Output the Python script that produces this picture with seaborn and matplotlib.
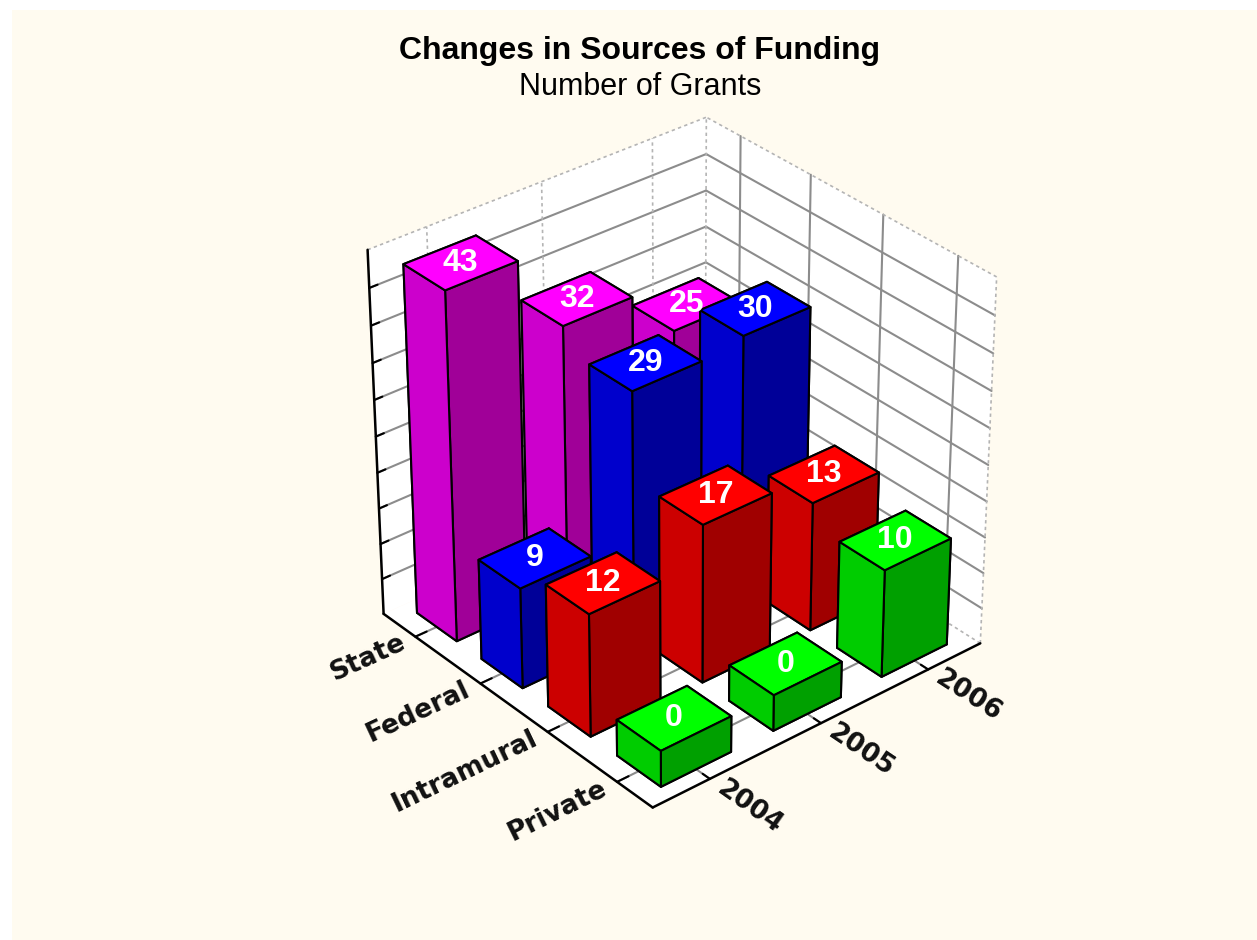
"""
Changes in Sources of Funding - 3D bar chart
"""

import matplotlib
matplotlib.use("Agg")
import matplotlib.pyplot as plt
import seaborn as sns
from matplotlib.patches import Rectangle
from mpl_toolkits.mplot3d.art3d import Poly3DCollection

years = ["2004", "2005", "2006"]
sources = ["Private", "Intramural", "Federal", "State"]

private = [0, 0, 10]
intramural = [12, 17, 13]
federal = [9, 29, 30]
state = [43, 32, 25]
grants = [private, intramural, federal, state]

z_ticks = [-5, 0, 5, 10, 15, 20, 25, 30, 35, 40, 45]

# top, left side and right side shade of each series
tops = sns.color_palette(["#FF00FF", "#0000FF", "#FF0000", "#00FF00"])
lefts = sns.color_palette(["#CC00CC", "#0000CC", "#CC0000", "#00CC00"])
rights = sns.color_palette(["#A00098", "#000098", "#A00000", "#00A000"])
series_color = {"State": 0, "Federal": 1, "Intramural": 2, "Private": 3}

sns.set_theme(style="white", font="Liberation Sans")

fig = plt.figure(figsize=(12.57, 9.4), dpi=100, facecolor="white")
fig.patches.append(Rectangle((12 / 1257, 0), 1, 930 / 940, transform=fig.transFigure,
                             facecolor="#FFFBF0", edgecolor="none", zorder=-10))

ax = fig.add_axes([0.1572, 0.007, 0.748, 1.0], projection="3d", computed_zorder=False)
ax.patch.set_alpha(0)
ax.set_proj_type("persp", focal_length=0.85)
ax.view_init(elev=32, azim=-130)
ax.set_box_aspect((1, 1, 0.99), zoom=0.775)

x0, x1 = -0.5, len(years) - 0.5
y0, y1 = -0.5, len(sources) - 0.5
z0, z1 = z_ticks[0], z_ticks[-1]
ax.set_xlim(x0, x1)
ax.set_ylim(y0, y1)
ax.set_zlim(z0, z1)
ax.set_axis_off()

# walls and floor
walls = [
    [(x0, y1, z0), (x1, y1, z0), (x1, y1, z1), (x0, y1, z1)],
    [(x1, y0, z0), (x1, y1, z0), (x1, y1, z1), (x1, y0, z1)],
    [(x0, y0, z0), (x1, y0, z0), (x1, y1, z0), (x0, y1, z0)],
]
ax.add_collection3d(Poly3DCollection(walls, facecolor="white", edgecolor="none", zorder=1))

gray = "#8C8C8C"
dash = "#B4B4B4"
label_font = dict(fontsize=19, fontweight="bold", family="DejaVu Sans", color="#111111", zorder=30)

for z in z_ticks[1:-1]:
    ax.plot([x0, x1], [y1, y1], [z, z], color=gray, lw=1.5, zorder=2)
    ax.plot([x1, x1], [y0, y1], [z, z], color=gray, lw=1.5, zorder=2)
    # tick marks on the z axis
    ax.plot([x0, x0 + 0.07], [y1, y1], [z, z], color="black", lw=1.5, zorder=3)

for i in range(len(years)):
    ax.plot([i, i], [y1, y1], [z0, z1], color=dash, lw=1.2, ls=(0, (2, 2)), zorder=2)
    ax.plot([i, i], [y0, y1], [z0, z0], color=gray, lw=1.5, zorder=2)
    ax.plot([i, i], [y0, y0 + 0.1], [z0, z0], color="black", lw=1.5, zorder=3)
    ax.text(i, y0 - 0.55, z0, years[i], zdir="y", ha="center", va="center", **label_font)

for j in range(len(sources)):
    ax.plot([x1, x1], [j, j], [z0, z1], color=gray, lw=1.5, zorder=2)
    ax.plot([x0, x1], [j, j], [z0, z0], color=gray, lw=1.5, zorder=2)
    ax.plot([x0, x0 + 0.1], [j, j], [z0, z0], color="black", lw=1.5, zorder=3)
    ax.text(x0 - 0.1, j, z0, sources[j], zdir="x", ha="right", va="center",
            rotation_mode="anchor", **label_font)

# box outline
ax.plot([x0, x1], [y1, y1], [z1, z1], color=dash, lw=1.2, ls=(0, (2, 2)), zorder=2)
ax.plot([x1, x1], [y0, y1], [z1, z1], color=dash, lw=1.2, ls=(0, (2, 2)), zorder=2)
ax.plot([x1, x1], [y1, y1], [z0, z1], color=dash, lw=1.2, ls=(0, (2, 2)), zorder=2)
ax.plot([x1, x1], [y0, y0], [z0, z1], color=dash, lw=1.2, ls=(0, (2, 2)), zorder=2)
ax.plot([x1, x1], [y0, y1], [z0, z0], color=dash, lw=1.2, ls=(0, (2, 2)), zorder=2)
ax.plot([x0, x0], [y1, y1], [z0, z1], color="black", lw=1.8, zorder=3)
ax.plot([x0, x0], [y0, y1], [z0, z0], color="black", lw=1.8, zorder=3)
ax.plot([x0, x1], [y0, y0], [z0, z0], color="black", lw=1.8, zorder=3)

# bars, far ones first
width = 0.62
order = 4
for j in reversed(range(len(sources))):
    c = series_color[sources[j]]
    for i in reversed(range(len(years))):
        value = grants[j][i]
        # bar3d faces: -z, +z, -y, +y, -x, +x
        faces = [lefts[c], tops[c], rights[c], lefts[c], lefts[c], rights[c]]
        ax.bar3d(i - width / 2, j - width / 2, z0, width, width, value - z0,
                 color=faces, edgecolor="black", linewidth=1.5, shade=False, zorder=order)
        ax.text(i, j, value, str(value), ha="center", va="center", color="white",
                fontsize=23, fontweight="bold", zorder=40)
        order += 1

fig.text(0.509, 0.946, "Changes in Sources of Funding", ha="center", va="center",
         fontsize=23, fontweight="bold", color="black")
fig.text(0.509, 0.907, "Number of Grants", ha="center", va="center",
         fontsize=22, color="black")

plt.savefig("out.png", dpi=100)
